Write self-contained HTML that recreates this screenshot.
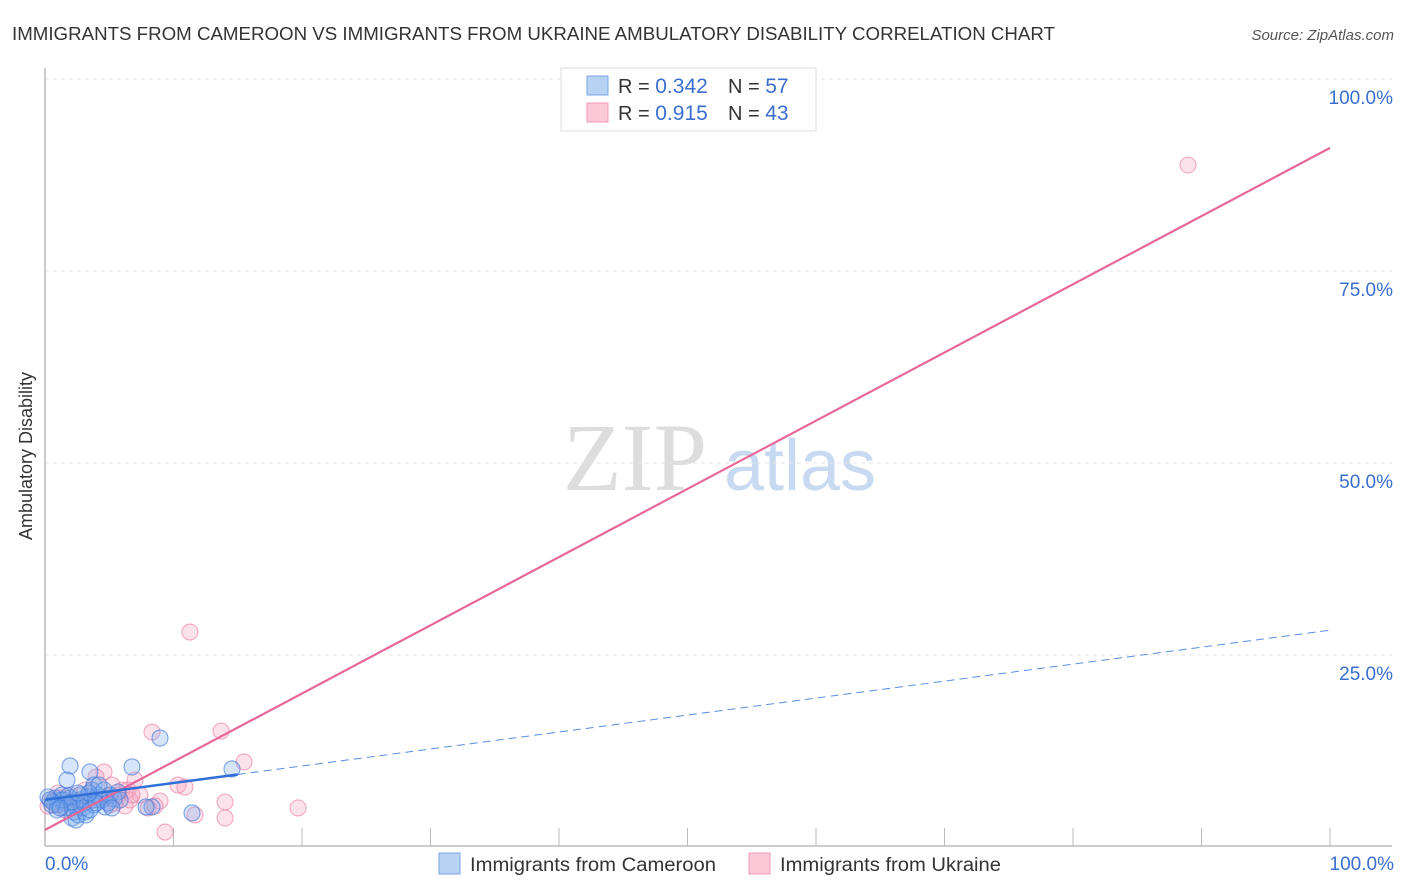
<!DOCTYPE html>
<html><head><meta charset="utf-8"><style>
body{margin:0;background:#fff;font-family:"Liberation Sans",sans-serif}
#wrap{position:relative;width:1406px;height:892px;overflow:hidden}
</style></head><body>
<div id="wrap">
<svg id="svg" width="1406" height="892" xmlns="http://www.w3.org/2000/svg">
<text x="12" y="40" font-size="18" fill="#333" textLength="1043" lengthAdjust="spacingAndGlyphs">IMMIGRANTS FROM CAMEROON VS IMMIGRANTS FROM UKRAINE AMBULATORY DISABILITY CORRELATION CHART</text>
<text x="1394" y="40" font-size="15" fill="#555" font-style="italic" text-anchor="end">Source: ZipAtlas.com</text>
<text x="32" y="456" font-size="18" fill="#333" text-anchor="middle" transform="rotate(-90 32 456)">Ambulatory Disability</text>
<g><text x="635" y="490" font-size="96" font-family="Liberation Serif,serif" fill="#ddd" text-anchor="middle">ZIP</text><text x="800" y="490" font-size="72" fill="#c8daf2" text-anchor="middle">atlas</text></g>
<g id="grid"></g><g id="axes"></g><g id="pts"></g><g id="lines"></g>
<g>
<rect x="561" y="68" width="255" height="63" fill="#fff" stroke="#ddd"/>
<rect x="587" y="76" width="21" height="19" fill="#b8d2f4" stroke="#7aa6e6"/>
<rect x="587" y="103" width="21" height="19" fill="#fbc8d8" stroke="#f09ab6"/>
<text x="618" y="93" font-size="20" fill="#333">R = <tspan fill="#3a6fd0" font-size="21">0.342</tspan></text>
<text x="728" y="93" font-size="20" fill="#333">N = <tspan fill="#3a6fd0" font-size="21">57</tspan></text>
<text x="618" y="120" font-size="20" fill="#333">R = <tspan fill="#3a6fd0" font-size="21"> 0.915</tspan></text>
<text x="728" y="120" font-size="20" fill="#333">N = <tspan fill="#3a6fd0" font-size="21">43</tspan></text>
</g>
<g>
<rect x="439" y="853" width="21" height="21" fill="#b8d2f4" stroke="#7aa6e6"/>
<text x="470" y="871" font-size="19" fill="#333" textLength="246" lengthAdjust="spacingAndGlyphs">Immigrants from Cameroon</text>
<rect x="749" y="853" width="21" height="21" fill="#fbc8d8" stroke="#f09ab6"/>
<text x="780" y="871" font-size="19" fill="#333" textLength="221" lengthAdjust="spacingAndGlyphs">Immigrants from Ukraine</text>
</g>
</svg>
</div>
<script>
const yTicks=[25,50,75,100];
const yTickLabels=["25.0%","50.0%","75.0%","100.0%"];
const xTickLabels=["0.0%","100.0%"];
// pixel-estimated points converted to % values
const bluePx=[[70,766],[67,780],[90,772],[94,785],[132,767],[160,738],[232,769],[152,807],[146,807],[192,813],[100,797],[105,807],[72,818],[78,815],[85,812],[60,800],[55,798],[50,800],[65,803],[80,800],[88,797],[95,800],[75,805],[83,808],[70,798],[62,795],[58,805],[92,790],[98,795],[102,800],[110,795],[118,792],[53,802],[48,797],[66,808],[74,812],[76,820],[86,815],[94,805],[104,790],[114,799],[120,800],[57,810],[63,800],[68,796],[72,802],[80,795],[84,803],[90,810],[96,803],[108,803],[112,808],[52,805],[60,808],[99,785],[89,793],[78,793]];
const pinkPx=[[1188,165],[190,632],[152,732],[221,731],[244,762],[104,772],[135,780],[178,785],[185,787],[96,777],[122,790],[128,790],[160,801],[225,802],[298,808],[225,818],[165,832],[195,815],[148,808],[155,806],[50,800],[55,805],[60,798],[70,795],[75,800],[80,805],[88,795],[92,800],[100,800],[108,796],[115,803],[125,806],[118,795],[65,810],[72,808],[85,790],[110,805],[130,800],[140,795],[58,793],[48,806],[112,785],[132,795]];
const blueX=bluePx.map(p=>+((p[0]-45)/12.85).toFixed(2));
const blueY=bluePx.map(p=>+((846-p[1])/7.68).toFixed(2));
const pinkX=pinkPx.map(p=>+((p[0]-45)/12.85).toFixed(2));
const pinkY=pinkPx.map(p=>+((846-p[1])/7.68).toFixed(2));
const blueFit=[6.0,0.221]; // intercept, slope
const pinkFit=[2.1,0.888];
const blueSolidEnd=15;

const X0=45,X1=1330,Y0=846,Y1=78;
const sx=v=>X0+(X1-X0)*v/100, sy=v=>Y0-(Y0-Y1)*v/100;
const NS="http://www.w3.org/2000/svg";
function mk(tag,attrs,parent){const e=document.createElementNS(NS,tag);for(const k in attrs)e.setAttribute(k,attrs[k]);document.getElementById(parent).appendChild(e);return e;}
yTicks.forEach((t,i)=>{
 const l=mk('line',{x1:X0,x2:1392,y1:sy(t)+1,y2:sy(t)+1,stroke:'#e6e6e6','stroke-dasharray':'4,4'},'grid');
 
 
 const tx=mk('text',{x:1393,y:sy(t)+26,'font-size':19,fill:'#3a6fd0','text-anchor':'end'},'grid');
 tx.textContent=yTickLabels[i];
 
 
});
const ax=mk('line',{x1:X0,x2:1392,y1:Y0,y2:Y0,stroke:'#bbb','stroke-width':1.5},'axes');


const ay=mk('line',{x1:X0,x2:X0,y1:68,y2:Y0,stroke:'#bbb','stroke-width':1.5},'axes');


for(let i=1;i<=10;i++){const t=mk('line',{x1:sx(i*10),x2:sx(i*10),y1:828,y2:Y0,stroke:'#bbb'},'axes');
 
 }
const xl0=mk('text',{x:45,y:870,'font-size':19,fill:'#3a6fd0'},'axes');xl0.textContent=xTickLabels[0];


const xl1=mk('text',{x:1394,y:870,'font-size':19,fill:'#3a6fd0','text-anchor':'end'},'axes');xl1.textContent=xTickLabels[1];


function pts(xs,ys,fill,stroke,name){xs.forEach((x,i)=>{const c=mk('circle',{cx:sx(x),cy:sy(ys[i]),r:8,fill:fill,stroke:stroke,'stroke-width':1.1},'pts');
 
 });}
pts(pinkX,pinkY,'rgba(246,160,190,0.3)','rgba(232,120,160,0.6)','ukraine-point');
pts(blueX,blueY,'rgba(120,170,235,0.3)','rgba(60,120,220,0.65)','cameroon-point');
const pl=mk('line',{x1:sx(0),y1:sy(pinkFit[0]),x2:sx(100),y2:sy(pinkFit[0]+100*pinkFit[1]),stroke:'#e8679a','stroke-width':2.2},'lines');


const bl=mk('line',{x1:sx(0),y1:sy(blueFit[0]),x2:sx(blueSolidEnd),y2:sy(blueFit[0]+blueSolidEnd*blueFit[1]),stroke:'#2f6fd8','stroke-width':2.5},'lines');


const bd=mk('line',{x1:sx(blueSolidEnd),y1:sy(blueFit[0]+blueSolidEnd*blueFit[1]),x2:sx(100),y2:sy(blueFit[0]+100*blueFit[1]),stroke:'#5a8ee0','stroke-width':1,'stroke-dasharray':'8,5'},'lines');


</script>
</body></html>
